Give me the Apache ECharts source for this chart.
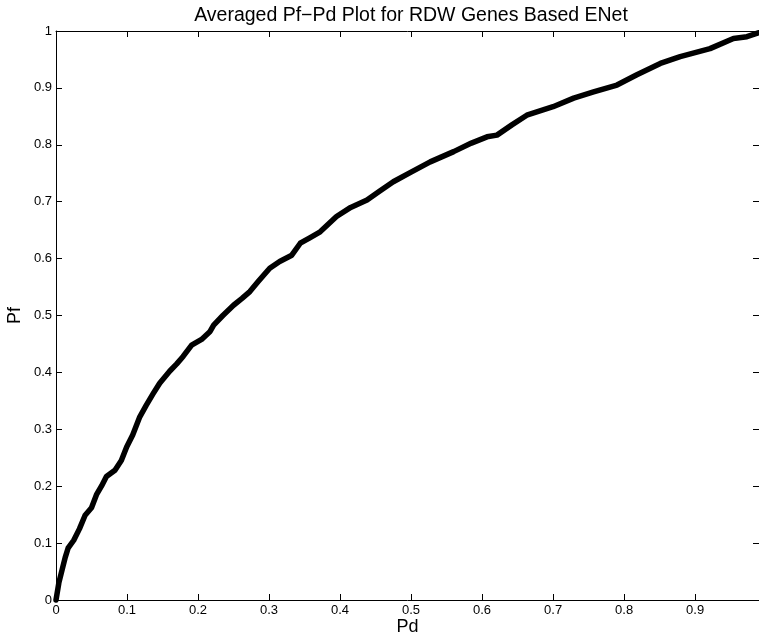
<!DOCTYPE html>
<html>
<head>
<meta charset="utf-8">
<script src="https://cdn.jsdelivr.net/npm/echarts@6/dist/echarts.min.js"></script>
<style>
  html, body { margin: 0; padding: 0; background: #fff; }
  #chart { width: 759px; height: 636px; }
</style>
</head>
<body>
<div id="chart"></div>
<script>
// averaged Pf-Pd curve
const pdValues = [0, 0.004, 0.009, 0.013, 0.017, 0.025, 0.033, 0.041, 0.05, 0.057, 0.064, 0.071, 0.083, 0.092,
  0.0995, 0.108, 0.118, 0.127, 0.137, 0.146, 0.16, 0.17, 0.179, 0.191, 0.205, 0.217, 0.222, 0.235, 0.25, 0.262,
  0.273, 0.285, 0.301, 0.315, 0.332, 0.344, 0.358, 0.372, 0.395, 0.415, 0.438, 0.455, 0.475, 0.5, 0.527, 0.56,
  0.585, 0.607, 0.621, 0.642, 0.663, 0.7, 0.729, 0.757, 0.79, 0.818, 0.851, 0.879, 0.9, 0.921, 0.954, 0.973, 0.99];
const pfValues = [0, 0.03, 0.055, 0.075, 0.091, 0.105, 0.125, 0.149, 0.162, 0.185, 0.2, 0.217, 0.228, 0.245,
  0.269, 0.29, 0.322, 0.342, 0.363, 0.381, 0.402, 0.415, 0.428, 0.448, 0.458, 0.472, 0.483, 0.5, 0.518, 0.53,
  0.542, 0.56, 0.583, 0.595, 0.606, 0.627, 0.637, 0.647, 0.674, 0.69, 0.703, 0.718, 0.735, 0.752, 0.77, 0.788,
  0.803, 0.814, 0.817, 0.835, 0.852, 0.867, 0.882, 0.893, 0.905, 0.923, 0.943, 0.955, 0.962, 0.969, 0.987, 0.99, 0.997];

const chart = echarts.init(document.getElementById('chart'), null, { renderer: 'canvas' });

const font = 'Liberation Sans, Arial, Helvetica, sans-serif';
const tickStyle = { show: true, inside: true, length: 6, lineStyle: { color: '#000', width: 1 } };
const lineStyle = { show: true, onZero: false, lineStyle: { color: '#000', width: 1 } };
const fmt = v => (Math.abs(v - Math.round(v * 10) / 10) < 1e-9 ? String(Math.round(v * 10) / 10) : '');

const option = {
  animation: false,
  backgroundColor: '#fff',
  title: {
    text: 'Averaged Pf\u2212Pd Plot for RDW Genes Based ENet',
    left: 406, top: 1, textAlign: 'center',
    textStyle: { fontFamily: font, fontSize: 19.5, fontWeight: 'normal', color: '#000' }
  },
  grid: { left: 56, right: 0, top: 31, bottom: 36, containLabel: false, outerBoundsMode: 'none' },
  xAxis: [{
    type: 'value', min: 0, max: 0.99, interval: 0.1,
    name: 'Pd', nameLocation: 'middle', nameGap: 18, nameMoveOverlap: false,
    nameTextStyle: { fontFamily: font, fontSize: 18, color: '#000' },
    axisLine: lineStyle, axisTick: tickStyle, splitLine: { show: false },
    axisLabel: { fontFamily: font, fontSize: 13, color: '#000', margin: 4, formatter: fmt, showMaxLabel: false }
  }, {
    type: 'value', position: 'top', min: 0, max: 0.99, interval: 0.1,
    axisLine: lineStyle, axisTick: tickStyle, splitLine: { show: false }, axisLabel: { show: false }
  }],
  yAxis: [{
    type: 'value', min: 0, max: 1, interval: 0.1,
    name: 'Pf', nameLocation: 'middle', nameGap: 32, nameMoveOverlap: false,
    nameTextStyle: { fontFamily: font, fontSize: 18, color: '#000' },
    axisLine: lineStyle, axisTick: tickStyle, splitLine: { show: false },
    axisLabel: { fontFamily: font, fontSize: 13, color: '#000', margin: 4, formatter: fmt }
  }, {
    type: 'value', position: 'right', min: 0, max: 1, interval: 0.1,
    axisLine: lineStyle, axisTick: tickStyle, splitLine: { show: false }, axisLabel: { show: false }
  }],
  series: [{
    type: 'line',
    data: pdValues.map((x, i) => [x, pfValues[i]]),
    showSymbol: false,
    smooth: false,
    lineStyle: { color: '#000', width: 5.5, join: 'round', cap: 'round' },
    clip: false
  }]
};

chart.setOption(option);
</script>
</body>
</html>
